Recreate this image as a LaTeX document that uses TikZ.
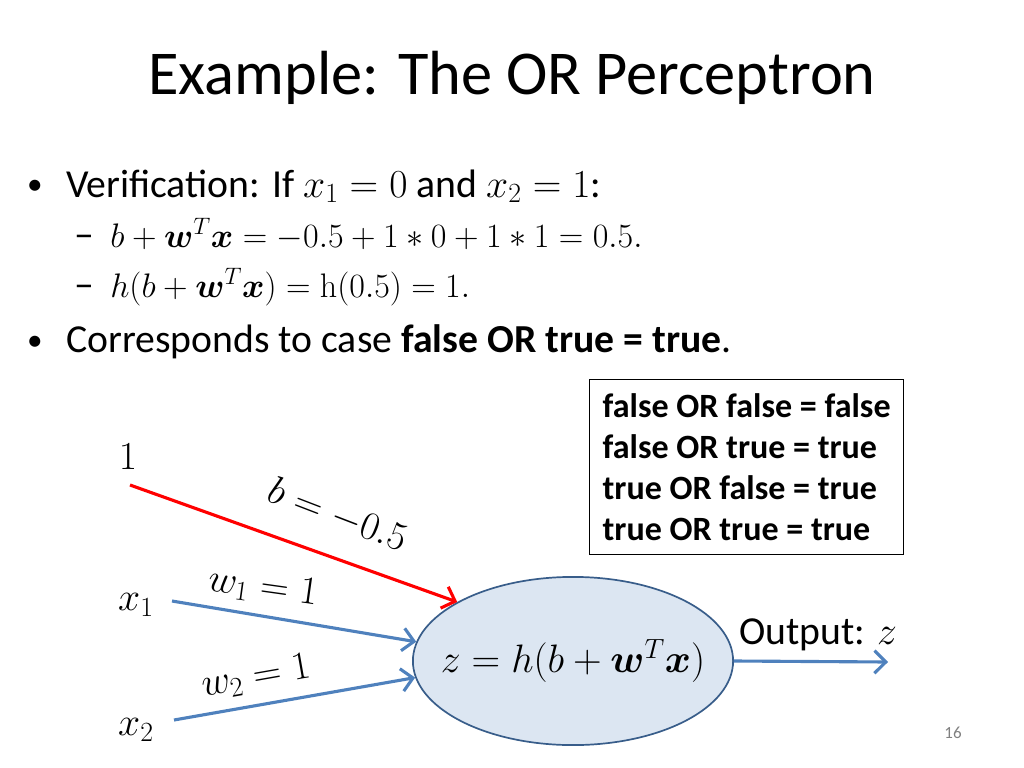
\RequirePackage{fix-cm}
\documentclass[tikz,border=0pt]{standalone}
\usepackage{amsmath}
\usepackage{bm}
\usepackage[no-math]{fontspec}
\setmainfont{Carlito}
\usetikzlibrary{shapes.geometric, arrows.meta}
\definecolor{wireblue}{HTML}{4F81BD}
\definecolor{cellfill}{HTML}{DCE6F2}
\definecolor{celledge}{HTML}{385D8A}
\newcommand{\titlesize}{\fontsize{44}{52}\selectfont}
\newcommand{\bodysize}{\fontsize{28}{34}\selectfont}
\newcommand{\subsize}{\fontsize{24}{29}\selectfont}
\newcommand{\tablesize}{\fontsize{24}{28.8}\selectfont}
\tikzstyle{wire} = [line width=2.2pt,-{Straight Barb[length=8pt,width=16pt]}]
\tikzstyle{line} = [anchor=base west, inner sep=0pt]
\tikzstyle{bulletmark} = [anchor=base, inner sep=0pt]

\begin{document}
\begin{tikzpicture}[x=0.0248cm, y=-0.0248cm]
    \useasboundingbox (0,0) rectangle (1024,768);
    \node[anchor=base] (title) at (512,95) {\titlesize Example: The OR Perceptron};
    \node[bulletmark] (dotA) at (35,195) {\fontsize{22}{26}\selectfont\textbullet};
    \node[line] (verify) at (66,197) {\bodysize Verification: If $x_1 = 0$ and $x_2 = 1$:};
    \node[bulletmark] (dashA) at (84,247) {\fontsize{28}{30}\selectfont\textendash};
    \node[line] (sum) at (110,247) {\subsize $b + \bm{w}^T\bm{x} = -0.5 + 1 \ast 0 + 1 \ast 1 = 0.5.$};
    \node[bulletmark] (dashB) at (84,297) {\fontsize{28}{30}\selectfont\textendash};
    \node[line] (act) at (110,297) {\subsize $h(b + \bm{w}^T\bm{x}) = \mathrm{h}(0.5) = 1.$};
    \node[bulletmark] (dotB) at (35,350) {\fontsize{22}{26}\selectfont\textbullet};
    \node[line] (case) at (66,352) {\bodysize Corresponds to case \textbf{false OR true = true}.};
    \node[draw, line width=0.8pt, anchor=north west, align=left, font=\tablesize\bfseries, minimum width=7.79cm, minimum height=4.34cm] (truth) at (589,379)
        {false OR false = false\\ false OR true = true\\ true OR false = true\\ true OR true = true};
    \node[ellipse, draw=celledge, fill=cellfill, line width=1.2pt, minimum width=7.94cm, minimum height=4.17cm, inner sep=0pt] (neuron) at (573,661)
        {\makebox[0pt]{\bodysize $z = h(b + \bm{w}^T\bm{x})$}};
    \node (one) at (128,457) {\bodysize $1$};
    \node (xa) at (136,605) {\bodysize $x_1$};
    \node (xb) at (136,730) {\bodysize $x_2$};
    \coordinate (oneTail) at (130,485);
    \coordinate (xaTail) at (172,601);
    \coordinate (xbTail) at (174,720);
    \coordinate (outHead) at (888,662);
    \draw[wire, red] (oneTail) -- (neuron.153);
    \draw[wire, wireblue] (xaTail) -- (neuron.173);
    \draw[wire, wireblue] (xbTail) -- (neuron.186);
    \draw[wire, wireblue] (neuron.east) -- (outHead);
    \node[rotate=-21] (bias) at (338,515) {\bodysize $b = -0.5$};
    \node[rotate=-8] (wa) at (263,588) {\bodysize $w_1 = 1$};
    \node[rotate=10] (wb) at (256,677) {\bodysize $w_2 = 1$};
    \node[anchor=base west] (outText) at (734,644) {\bodysize Output: $z$};
    \node[anchor=base, text=gray] (page) at (953,738) {\fontsize{12}{14}\selectfont 16};
\end{tikzpicture}
\end{document}
